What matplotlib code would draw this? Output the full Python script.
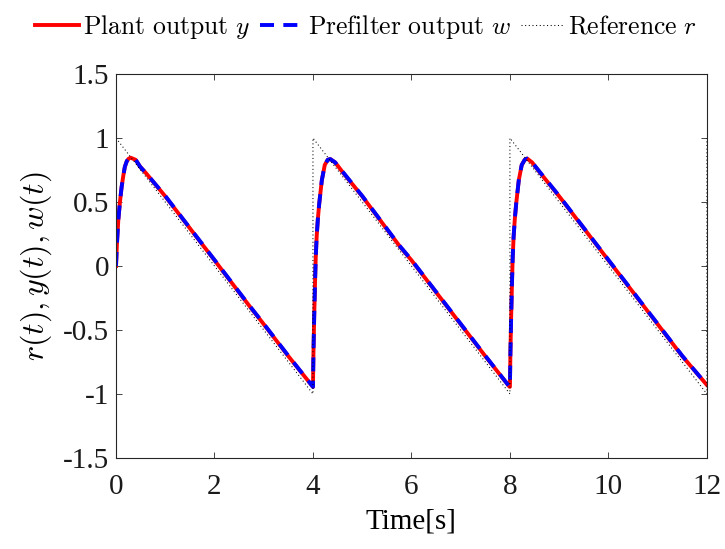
import matplotlib
matplotlib.use("Agg")
import matplotlib.pyplot as plt

plt.rcParams['font.family'] = ['Liberation Serif', 'DejaVu Serif']
plt.rcParams['mathtext.fontset'] = 'cm'

# Reference sawtooth r(t): breakpoints
t_ref = [0, 4, 4, 8, 8, 12, 12]
r_ref = [1, -1, 1, -1, 1, -1, 1]

# Plant output y(t)
t_y = [0.0, 0.02, 0.047, 0.08, 0.115, 0.15, 0.18, 0.22, 0.26, 0.30, 0.40, 0.49, 0.60, 1.0, 1.37, 2.0, 2.72, 3.0, 3.5, 3.99,
       4.0, 4.01, 4.025, 4.04, 4.055, 4.075, 4.10, 4.128, 4.18, 4.24, 4.30, 4.35, 4.45, 4.60, 5.0, 5.77, 6.0, 7.0, 7.5, 7.99,
       8.0, 8.01, 8.025, 8.04, 8.055, 8.075, 8.10, 8.128, 8.18, 8.24, 8.30, 8.35, 8.45, 8.60, 9.0, 10.0, 11.0, 11.5, 12.0]
y_out = [0.0, 0.18, 0.36, 0.50, 0.62, 0.71, 0.776, 0.82, 0.84, 0.846, 0.83, 0.776, 0.73, 0.545, 0.36, 0.045, -0.318, -0.455, -0.705, -0.94,
         -0.945, -0.68, -0.40, -0.16, 0.05, 0.229, 0.37, 0.49, 0.67, 0.79, 0.83, 0.836, 0.81, 0.735, 0.545, 0.15, 0.045, -0.455, -0.705, -0.943,
         -0.945, -0.68, -0.40, -0.16, 0.05, 0.229, 0.37, 0.49, 0.67, 0.79, 0.83, 0.84, 0.81, 0.735, 0.545, 0.045, -0.455, -0.705, -0.93]

# Prefilter output w(t)
t_w = t_y
w_out = [0.0, 0.18, 0.36, 0.50, 0.62, 0.71, 0.776, 0.82, 0.84, 0.846, 0.83, 0.776, 0.73, 0.548, 0.362, 0.048, -0.315, -0.452, -0.702, -0.94,
         -0.945, -0.68, -0.40, -0.16, 0.05, 0.229, 0.37, 0.49, 0.67, 0.79, 0.83, 0.836, 0.81, 0.738, 0.548, 0.153, 0.048, -0.452, -0.702, -0.943,
         -0.945, -0.68, -0.40, -0.16, 0.05, 0.229, 0.37, 0.49, 0.67, 0.79, 0.83, 0.84, 0.81, 0.738, 0.548, 0.048, -0.452, -0.702, -0.93]

x_ticks = [0, 2, 4, 6, 8, 10, 12]
y_ticks = [-1.5, -1, -0.5, 0, 0.5, 1, 1.5]
y_ticklabels = ['-1.5', '-1', '-0.5', '0', '0.5', '1', '1.5']

fig = plt.figure(figsize=(7.25, 5.49), dpi=100)
ax = fig.add_axes([0.160, 0.166, 0.815, 0.699])

ax.plot(t_y, y_out, color='red', lw=2.8, solid_joinstyle='round',
        label=r'$\mathrm{Plant\ output}\ y$')
ax.plot(t_w, w_out, color='blue', lw=2.8, linestyle=(0, (3.6, 2.4)),
        label=r'$\mathrm{Prefilter\ output}\ w$')
ax.plot(t_ref, r_ref, color='black', lw=0.75, linestyle=(0, (1, 2.5)),
        label=r'$\mathrm{Reference}\ r$')

ax.set_xlim(0, 12)
ax.set_ylim(-1.5, 1.5)
ax.set_xticks(x_ticks)
ax.set_yticks(y_ticks)
ax.set_yticklabels(y_ticklabels)
ax.tick_params(direction='in', top=True, right=True, length=4.5, width=0.6,
               labelsize=21, colors='#262626', labelcolor='#1a1a1a', pad=5)
ax.tick_params(axis='x', pad=11.5)
for s in ax.spines.values():
    s.set_color('#262626')
    s.set_linewidth(0.8)

ax.set_xlabel('Time[s]', fontsize=21, labelpad=6)
ax.set_ylabel(r'$r(t), y(t), w(t)$', fontsize=23, labelpad=6)

fig.legend(loc='upper center', bbox_to_anchor=(0.505, 1.005), ncol=3, frameon=False,
           fontsize=18.5, handlelength=1.7, handletextpad=0.15, columnspacing=0.4,
           borderaxespad=0.2)

fig.savefig('out.png', dpi=100)
